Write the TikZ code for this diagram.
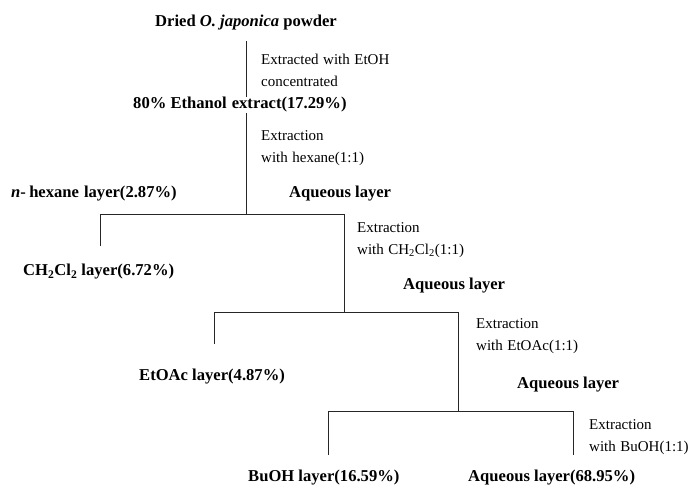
\documentclass[tikz,border=0pt]{standalone}
\usepackage{fontspec}
\setmainfont{Liberation Serif}
\begin{document}
\begin{tikzpicture}[x=1pt,y=-1pt,
  bl/.style={font=\fontsize{16.6}{19}\selectfont\bfseries, inner sep=0pt, anchor=west},
  rg/.style={font=\fontsize{15}{22}\selectfont, inner sep=0pt, anchor=west, align=left},
  ln/.style={draw=black!85, line width=0.9pt}]
\useasboundingbox (0,0) rectangle (699,488);
% junction coordinates
\coordinate (a0) at (246,41);
\coordinate (a1) at (246,97);
\coordinate (b0) at (246,113);
\coordinate (b1) at (246,214);
\coordinate (b2) at (100,214);
\coordinate (b3) at (100,246);
\coordinate (b4) at (344,214);
\coordinate (c1) at (344,312);
\coordinate (c2) at (214,312);
\coordinate (c3) at (214,344);
\coordinate (c4) at (458,312);
\coordinate (d1) at (458,411);
\coordinate (d2) at (328,411);
\coordinate (d3) at (328,455);
\coordinate (d4) at (573,411);
\coordinate (d5) at (573,455);
% lines
\draw[ln] (a0) -- (a1);
\draw[ln] (b0) -- (b1);
\draw[ln] (b3) -- (b2) -- (b4) -- (c1);
\draw[ln] (c3) -- (c2) -- (c4) -- (d1);
\draw[ln] (d3) -- (d2) -- (d4) -- (d5);
% texts
\node[bl, anchor=center] (dried) at (246,23) {Dried \textit{O. japonica} powder};
\node[rg] (ext1) at (261,70) {Extracted\hspace{0.3em}with\hspace{0.3em}EtOH\\concentrated};
\node[bl] (etoh) at (133,105) {80\% Ethanol\hspace{0.3em}extract(17.29\%)};
\node[rg] (ext2) at (261,148) {Extraction\\with\hspace{0.3em}hexane(1:1)};
\node[bl] (hex) at (11,194) {\textit{n}-\hspace{0.2em}hexane\hspace{0.3em}layer(2.87\%)};
\node[bl] (aq1) at (289,194) {Aqueous layer};
\node[rg] (ext3) at (357,240) {Extraction\\with\hspace{0.3em}CH\textsubscript{2}Cl\textsubscript{2}(1:1)};
\node[bl] (dcm) at (23,272) {CH\textsubscript{2}Cl\textsubscript{2} layer(6.72\%)};
\node[bl] (aq2) at (403,286) {Aqueous layer};
\node[rg] (ext4) at (476,336) {Extraction\\with\hspace{0.3em}EtOAc(1:1)};
\node[bl] (etoac) at (139,377) {EtOAc layer(4.87\%)};
\node[bl] (aq3) at (517,385) {Aqueous layer};
\node[rg] (ext5) at (589,437) {Extraction\\with\hspace{0.3em}BuOH(1:1)};
\node[bl] (buoh) at (248,478) {BuOH layer(16.59\%)};
\node[bl] (aq4) at (468,478) {Aqueous layer(68.95\%)};
\end{tikzpicture}
\end{document}
